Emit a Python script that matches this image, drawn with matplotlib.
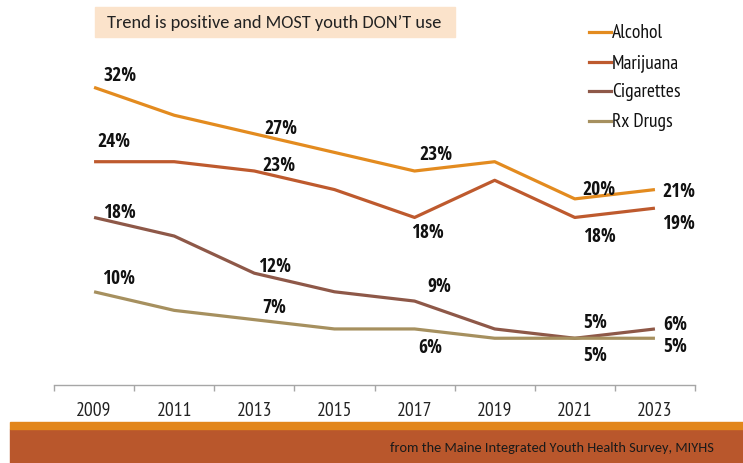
import matplotlib.pyplot as plt
from matplotlib.patches import Rectangle
from matplotlib.lines import Line2D

LABEL_FONT = ['Open Sans Condensed', 'DejaVu Sans']
NARROW_FONT = ['PT Sans Narrow', 'DejaVu Sans']
BODY_FONT = ['Carlito', 'DejaVu Sans']

years = ['2009', '2011', '2013', '2015', '2017', '2019', '2021', '2023']
alcohol = [32, 29, 27, 25, 23, 24, 20, 21]
marijuana = [24, 24, 23, 21, 18, 22, 18, 19]
cigarettes = [18, 16, 12, 10, 9, 6, 5, 6]
rx_drugs = [10, 8, 7, 6, 6, 5, 5, 5]

series = [
    ('Alcohol', alcohol, '#E38B1F'),
    ('Marijuana', marijuana, '#BE5A2E'),
    ('Cigarettes', cigarettes, '#8E5848'),
    ('Rx Drugs', rx_drugs, '#A6905F'),
]

# which points get a value label, and the label offset in pixels (dx, dy up)
label_offsets = {
    'Alcohol': {0: (26, 12), 2: (27, 6), 4: (21, 17), 6: (24, 10), 7: (24, -1)},
    'Marijuana': {0: (20, 21), 2: (25, 6), 4: (13, -15), 6: (25, -19), 7: (24, -15)},
    'Cigarettes': {0: (25, 5), 2: (20, 7), 4: (25, 15), 6: (20, 16), 7: (20, 5)},
    'Rx Drugs': {0: (25, 14), 2: (20, 13), 4: (16, -18), 6: (20, -17), 7: (20, -8)},
}

W, H = 743, 464
fig = plt.figure(figsize=(W / 100, H / 100), dpi=100)
ax = fig.add_axes([54 / W, (H - 385.7) / H, 641 / W, 325.2 / H])

x = list(range(len(years)))
for name, vals, color in series:
    ax.plot(x, vals, color=color, lw=2.3, solid_capstyle='butt')
    for i, (dx, dy) in label_offsets[name].items():
        ax.annotate(f'{vals[i]}%', (i, vals[i]), xytext=(dx, dy),
                    textcoords='offset pixels', ha='center', va='center',
                    fontsize=14, fontweight='bold', family=LABEL_FONT,
                    color='#111111')

ax.set_xlim(-0.5, len(years) - 0.5)
ax.set_ylim(0, 35)
for side in ['top', 'right', 'left']:
    ax.spines[side].set_visible(False)
ax.spines['bottom'].set_color('#A6A6A6')
ax.spines['bottom'].set_linewidth(1)
ax.set_yticks([])
ax.set_xticks(x)
ax.set_xticklabels(years, fontsize=14, family=NARROW_FONT, color='#222222')
ax.set_xticks([i - 0.5 for i in range(len(years) + 1)], minor=True)
ax.tick_params(axis='x', which='major', length=0, pad=12)
ax.tick_params(axis='x', which='minor', length=4.5, color='#A6A6A6', width=1)

# legend drawn by hand on the right
for k, (name, vals, color) in enumerate(series):
    yy = 1 - (33 + 29.7 * k) / H
    fig.add_artist(Line2D([589 / W, 611 / W], [yy, yy], color=color, lw=2.3,
                          transform=fig.transFigure))
    fig.text(612 / W, yy, name, fontsize=14, family=NARROW_FONT, va='center',
             ha='left', color='#111111')

# heading box
fig.patches.append(Rectangle((95 / W, 1 - 38 / H), 360 / W, 30 / H,
                             transform=fig.transFigure, color='#FBE3CB', zorder=0))
fig.text(274 / W, 1 - 23 / H, 'Trend is positive and MOST youth DON\u2019T use',
         fontsize=13.2, family=BODY_FONT, ha='center', va='center', color='#222222')

# footer band
fig.patches.append(Rectangle((10 / W, 0), 1, 34 / H, transform=fig.transFigure,
                             color='#B9572C', zorder=0))
fig.patches.append(Rectangle((10 / W, 34 / H), 1, 7 / H, transform=fig.transFigure,
                             color='#E2861C', zorder=0))
fig.text(714 / W, 1 - 448 / H, 'from the Maine Integrated Youth Health Survey, MIYHS',
         fontsize=10.4, family=BODY_FONT, ha='right', va='center', color='#1A1A1A')

fig.savefig('out.png', dpi=100)
